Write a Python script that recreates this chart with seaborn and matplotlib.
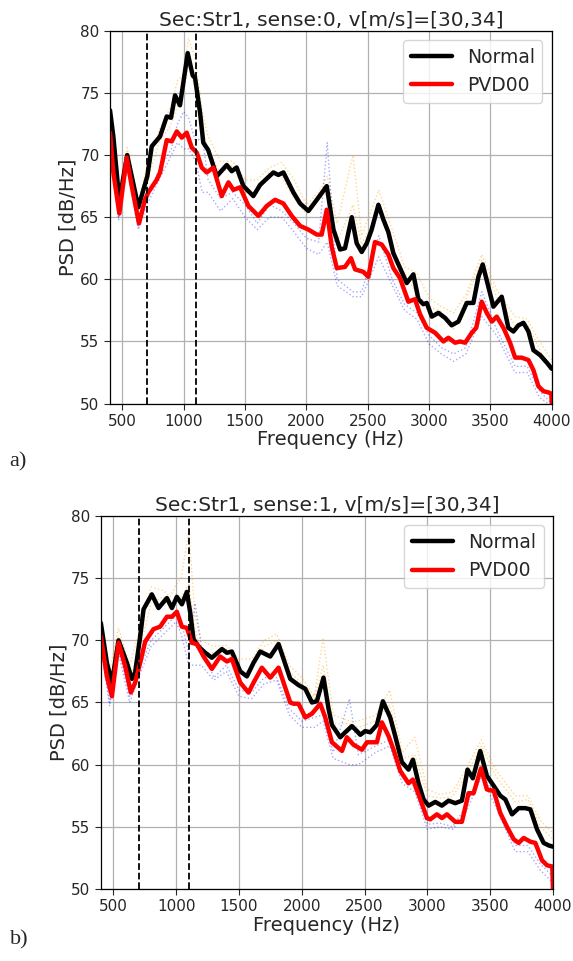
# =====================================================
# 1. IMPORT LIBRARY
# =====================================================
import numpy as np
import matplotlib
matplotlib.use("Agg")
import matplotlib.pyplot as plt
import seaborn as sns

# =====================================================
# 2. DATA
# =====================================================
# --- panel a) sense:0, mean curves
freq_a_normal = [400, 427, 476, 540, 631, 704, 740, 808, 862, 897, 930, 970, 1033, 1074, 1093,
                 1134, 1160, 1200, 1270, 1351, 1392, 1432, 1487, 1568, 1623, 1731, 1772, 1813,
                 1894, 1949, 2017, 2085, 2166, 2221, 2275, 2315, 2370, 2410, 2451, 2492, 2532,
                 2587, 2628, 2668, 2709, 2750, 2818, 2872, 2913, 2953, 2981, 3022, 3076, 3130,
                 3184, 3239, 3307, 3361, 3402, 3437, 3483, 3524, 3592, 3646, 3687, 3728, 3769,
                 3810, 3850, 3905, 3959, 4000]
psd_a_normal = [73.6, 71.5, 66.3, 70.0, 65.8, 68.3, 70.7, 71.5, 73.1, 73.0, 74.8, 74.0, 78.2, 76.4, 76.2,
                73.4, 71.0, 70.4, 68.3, 69.2, 68.7, 69.0, 67.5, 66.7, 67.6, 68.6, 68.4, 68.6,
                67.0, 66.1, 65.5, 66.4, 67.5, 64.0, 62.4, 62.5, 65.0, 62.9, 62.2, 62.9, 64.0,
                66.0, 64.8, 63.8, 62.1, 61.2, 59.7, 60.4, 58.4, 58.0, 58.1, 57.0, 57.3, 56.9,
                56.3, 56.6, 58.1, 58.1, 60.2, 61.2, 59.4, 57.8, 58.6, 56.1, 55.8, 56.3, 56.5,
                55.8, 54.3, 53.9, 53.3, 52.8]

freq_a_pvd = [400, 427, 476, 536, 577, 636, 685, 712, 780, 808, 862, 903, 944, 985, 1025, 1066,
              1107, 1147, 1188, 1242, 1310, 1365, 1405, 1460, 1528, 1609, 1677, 1745, 1813, 1881,
              1949, 2017, 2085, 2125, 2166, 2207, 2248, 2315, 2364, 2397, 2465, 2505, 2559, 2614,
              2668, 2709, 2763, 2831, 2885, 2926, 2981, 3049, 3117, 3157, 3212, 3253, 3294, 3348,
              3384, 3429, 3470, 3511, 3551, 3606, 3660, 3701, 3755, 3810, 3850, 3891, 3932, 3973,
              3996, 4000]
psd_a_pvd = [71.8, 68.6, 65.3, 69.8, 67.5, 64.5, 66.4, 67.0, 68.0, 68.6, 71.2, 71.1, 71.9, 71.4, 71.8, 70.6,
             70.2, 69.0, 68.6, 69.0, 66.7, 67.8, 67.2, 67.4, 65.9, 65.1, 65.9, 66.4, 66.1, 65.1,
             64.3, 64.0, 63.6, 63.6, 65.6, 62.6, 60.9, 61.0, 61.7, 60.8, 60.6, 60.2, 63.0, 62.8,
             62.0, 60.9, 60.1, 58.2, 58.4, 57.2, 56.1, 55.7, 55.0, 55.3, 54.9, 55.0, 54.9, 55.7,
             56.1, 58.2, 57.3, 56.6, 57.0, 56.1, 54.9, 53.7, 53.7, 53.5, 52.7, 51.4, 51.0, 50.9,
             50.8, 50.0]

# --- panel b) sense:1, mean curves
freq_b_normal = [400, 448, 488, 541, 607, 647, 673, 713, 740, 806, 859, 926, 966, 1005, 1045,
                 1085, 1112, 1138, 1178, 1231, 1284, 1364, 1404, 1443, 1510, 1563, 1616, 1669,
                 1749, 1815, 1855, 1908, 1974, 2028, 2081, 2120, 2173, 2213, 2240, 2306, 2346,
                 2399, 2439, 2466, 2505, 2545, 2598, 2646, 2704, 2744, 2797, 2850, 2885, 2930,
                 2970, 3010, 3063, 3116, 3169, 3222, 3275, 3320, 3362, 3421, 3474, 3528, 3581,
                 3621, 3674, 3727, 3780, 3820, 3873, 3926, 3966, 4000]
psd_b_normal = [71.4, 68.2, 66.6, 70.0, 68.2, 66.9, 67.4, 70.3, 72.5, 73.7, 72.6, 73.4, 72.6, 73.5, 72.9,
                73.9, 72.2, 70.1, 69.5, 69.0, 68.6, 69.3, 69.0, 69.1, 67.5, 67.1, 68.2, 69.1,
                68.7, 69.7, 68.5, 66.9, 66.4, 66.1, 65.0, 65.1, 67.0, 64.5, 63.2, 62.2, 62.6,
                63.1, 62.7, 62.4, 62.7, 62.6, 63.2, 65.1, 63.8, 62.3, 60.2, 59.6, 60.4, 58.5,
                57.2, 56.7, 57.0, 56.7, 57.1, 56.9, 57.1, 59.6, 58.9, 61.1, 59.1, 58.3, 57.5,
                57.2, 56.0, 56.5, 56.5, 56.4, 54.8, 53.7, 53.5, 53.4]

freq_b_pvd = [400, 448, 488, 541, 594, 639, 673, 713, 753, 819, 872, 926, 966, 1005, 1045, 1085,
              1125, 1165, 1218, 1284, 1350, 1404, 1443, 1510, 1576, 1616, 1682, 1749, 1815, 1855,
              1908, 1935, 1974, 2028, 2081, 2147, 2187, 2240, 2320, 2359, 2412, 2479, 2519, 2598,
              2638, 2691, 2731, 2784, 2850, 2885, 2944, 2997, 3023, 3076, 3116, 3156, 3222, 3275,
              3328, 3368, 3427, 3474, 3528, 3581, 3634, 3687, 3727, 3767, 3820, 3860, 3913, 3953,
              3995, 4000]
psd_b_pvd = [70.3, 67.1, 65.5, 69.8, 67.9, 65.8, 66.6, 68.2, 69.9, 70.9, 71.1, 71.9, 71.9, 72.3, 71.1, 71.0,
             69.8, 69.7, 68.7, 67.7, 68.7, 68.3, 68.5, 66.6, 65.8, 66.6, 67.8, 67.0, 67.8, 66.6,
             65.0, 64.9, 64.9, 63.8, 64.1, 64.9, 63.8, 61.8, 61.1, 62.2, 61.6, 61.2, 61.8, 61.8,
             63.4, 62.3, 61.2, 59.5, 58.5, 58.8, 57.2, 55.7, 55.6, 56.0, 55.7, 56.0, 55.4, 55.4,
             57.7, 57.7, 59.7, 58.0, 57.9, 56.1, 55.0, 54.0, 53.7, 54.1, 53.8, 53.7, 52.3, 51.9,
             51.8, 50.0]

# --- individual runs (thin dotted lines), common coarse grid
freq_runs = [400, 470, 540, 630, 700, 800, 900, 950, 1000, 1040, 1100, 1150, 1200, 1300, 1400,
             1500, 1600, 1700, 1800, 1900, 2000, 2100, 2170, 2250, 2380, 2450, 2590, 2700, 2800,
             2900, 3000, 3100, 3200, 3300, 3430, 3550, 3700, 3800, 3900, 4000]

a_normal_run1 = [74.0, 67.0, 70.6, 66.2, 69.0, 72.0, 74.0, 76.0, 76.5, 79.4, 77.5, 73.5, 71.5, 69.5, 69.5,
                 68.0, 68.0, 69.0, 69.4, 68.0, 66.0, 67.0, 68.3, 64.5, 70.0, 63.5, 67.2, 64.0, 61.0,
                 60.5, 58.5, 57.8, 57.3, 58.8, 62.0, 59.2, 57.0, 56.8, 55.0, 53.5]
a_normal_run2 = [73.0, 66.0, 69.8, 65.5, 67.8, 71.0, 72.5, 74.0, 75.0, 77.5, 75.0, 72.0, 70.5, 68.5, 69.2,
                 67.0, 67.0, 68.6, 68.2, 66.5, 65.3, 66.4, 67.0, 63.0, 66.0, 62.8, 65.5, 62.6, 60.5,
                 58.8, 57.8, 57.4, 56.0, 58.4, 61.5, 58.6, 56.3, 56.4, 54.4, 52.4]
a_pvd_run1 = [71.5, 65.0, 69.5, 64.3, 66.5, 68.8, 70.5, 72.5, 73.5, 73.0, 71.0, 71.5, 68.0, 66.5, 67.0,
              66.0, 64.5, 66.0, 65.5, 64.5, 63.3, 63.0, 71.0, 60.0, 59.0, 59.0, 63.5, 60.0, 58.0,
              57.3, 55.5, 54.5, 54.0, 54.5, 59.0, 56.0, 53.0, 53.0, 51.0, 50.0]
a_pvd_run2 = [71.0, 64.8, 69.0, 64.0, 66.0, 68.0, 70.0, 71.0, 70.5, 70.5, 69.5, 67.0, 67.0, 65.5, 66.5,
              65.0, 64.0, 65.0, 65.0, 63.8, 62.5, 62.0, 63.0, 59.5, 58.6, 58.6, 61.8, 59.5, 57.5,
              56.8, 54.8, 54.0, 53.4, 54.0, 57.0, 55.5, 52.5, 52.5, 50.5, 49.8]

b_normal_run1 = [72.0, 67.5, 71.0, 68.0, 70.5, 74.3, 74.0, 73.5, 74.5, 75.0, 78.8, 72.0, 70.0, 69.5, 69.6,
                 68.5, 68.5, 70.0, 70.5, 68.0, 67.0, 65.5, 70.2, 64.0, 63.5, 63.5, 64.0, 66.0, 61.0,
                 62.2, 58.0, 57.6, 57.8, 59.5, 62.0, 59.5, 57.5, 57.5, 55.5, 54.5]
b_normal_run2 = [71.0, 66.5, 70.3, 67.0, 69.0, 73.0, 73.5, 72.5, 73.0, 73.5, 74.5, 71.0, 69.0, 69.0, 69.3,
                 67.5, 67.5, 69.5, 70.0, 67.5, 66.5, 65.3, 68.0, 63.3, 63.3, 63.0, 63.5, 64.8, 60.5,
                 60.8, 57.5, 57.3, 57.4, 59.0, 61.5, 59.0, 57.0, 57.2, 55.0, 54.0]
b_pvd_run1 = [70.0, 65.0, 69.5, 65.5, 67.5, 70.0, 71.0, 71.5, 72.0, 71.5, 69.0, 73.0, 69.5, 67.0, 68.0,
              66.0, 65.8, 67.0, 67.0, 64.5, 63.5, 63.8, 64.0, 61.0, 65.3, 60.8, 61.5, 62.0, 59.0,
              58.3, 55.2, 55.3, 55.0, 56.5, 59.5, 57.0, 53.5, 53.5, 52.0, 51.0]
b_pvd_run2 = [69.5, 64.7, 69.0, 65.0, 67.0, 69.5, 70.5, 71.0, 71.5, 70.5, 68.0, 68.0, 68.0, 66.8, 67.5,
              65.5, 65.3, 66.5, 66.8, 64.0, 63.0, 63.0, 63.5, 60.5, 60.0, 60.0, 61.0, 61.5, 58.5,
              57.8, 54.8, 55.0, 54.8, 56.0, 59.0, 56.5, 53.0, 53.0, 51.5, 50.5]

titles = ["Sec:Str1, sense:0, v[m/s]=[30,34]", "Sec:Str1, sense:1, v[m/s]=[30,34]"]
panel_tags = ["a)", "b)"]
band_limits = [700, 1100]
x_ticks = [500, 1000, 1500, 2000, 2500, 3000, 3500, 4000]
y_ticks = [50, 55, 60, 65, 70, 75, 80]

# =====================================================
# 3. STYLE
# =====================================================
sns.set_style("ticks")
plt.rcParams["font.family"] = ["DejaVu Sans"]


def draw_panel(ax, title, f_norm, p_norm, f_pvd, p_pvd, norm_runs, pvd_runs):
    # -------------------------
    # individual runs (dotted)
    # -------------------------
    for run in norm_runs:
        sns.lineplot(x=freq_runs, y=run, ax=ax, color="orange", lw=1.0,
                     linestyle=":", alpha=0.45)
    for run in pvd_runs:
        sns.lineplot(x=freq_runs, y=run, ax=ax, color="blue", lw=1.0,
                     linestyle=":", alpha=0.35)
    # -------------------------
    # mean curves
    # -------------------------
    sns.lineplot(x=f_norm, y=p_norm, ax=ax, color="black", lw=3.2, label="Normal")
    sns.lineplot(x=f_pvd, y=p_pvd, ax=ax, color="red", lw=3.2, label="PVD00")
    for xv in band_limits:
        ax.axvline(xv, color="black", ls="--", lw=1.3)

    ax.set_xlim(400, 4000)
    ax.set_ylim(50, 80)
    ax.set_xticks(x_ticks)
    ax.set_yticks(y_ticks)
    ax.grid(True, color="#b0b0b0", lw=0.9)
    ax.tick_params(labelsize=11, length=4)
    for sp in ax.spines.values():
        sp.set_color("black")
        sp.set_linewidth(0.9)
    ax.set_title(title, fontsize=14.5, pad=4)
    ax.set_xlabel("Frequency (Hz)", fontsize=14, labelpad=1)
    ax.set_ylabel("PSD [dB/Hz]", fontsize=14, labelpad=2)
    ax.legend(loc="upper right", fontsize=13.5, handlelength=2.2, framealpha=0.8,
              borderaxespad=0.5)


# =====================================================
# 4. FIGURE
# =====================================================
fig = plt.figure(figsize=(5.73, 9.61), dpi=100)
ax_a = fig.add_axes([0.192, 0.580, 0.771, 0.388])
ax_b = fig.add_axes([0.176, 0.075, 0.789, 0.388])

draw_panel(ax_a, titles[0], freq_a_normal, psd_a_normal, freq_a_pvd, psd_a_pvd,
           [a_normal_run1, a_normal_run2], [a_pvd_run1, a_pvd_run2])
draw_panel(ax_b, titles[1], freq_b_normal, psd_b_normal, freq_b_pvd, psd_b_pvd,
           [b_normal_run1, b_normal_run2], [b_pvd_run1, b_pvd_run2])

fig.text(0.017, 1 - 462 / 961, panel_tags[0], fontsize=16, va="center",
         family=["Liberation Serif", "DejaVu Serif"])
fig.text(0.017, 1 - 940 / 961, panel_tags[1], fontsize=16, va="center",
         family=["Liberation Serif", "DejaVu Serif"])

fig.savefig("out.png", dpi=100)
